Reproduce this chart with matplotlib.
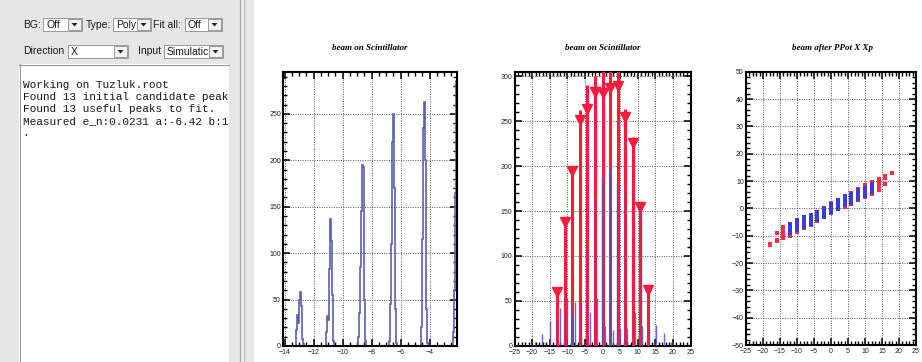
import numpy as np
import matplotlib
matplotlib.use('Agg')
import matplotlib.pyplot as plt
from matplotlib.patches import Rectangle, Polygon
from matplotlib.ticker import MultipleLocator

W, H = 922, 362

# ---------------- data ----------------
status_lines = ["Working on Tuzluk.root",
                "Found 13 initial candidate peak",
                "Found 13 useful peaks to fit.",
                "Measured e_n:0.0231 a:-6.42 b:1",
                "."]
titles = ["beam on Scintillator", "beam on Scintillator", "beam after PPot X Xp"]

# panel 1: histogram peaks (start edge of first bin, counts per bin)
p1_bin_width = 0.07
p1_peak_starts = [-13.24, -11.13, -8.94, -6.78, -4.57, -2.39]
p1_peak_counts = [[17, 33, 25, 50, 58, 43, 8, 2],
                  [15, 32, 28, 83, 137, 113, 55, 5],
                  [10, 35, 85, 145, 195, 193, 50, 5],
                  [5, 45, 110, 220, 250, 170, 40, 3],
                  [20, 115, 235, 263, 200, 40, 3],
                  [15, 60, 165, 285]]

# panel 2: red fitted peaks and found-peak markers, blue histogram
p2_red_pos = [-12.8, -10.7, -8.6, -6.45, -4.3, -2.15, 0.0, 2.15, 4.3, 6.45, 8.6, 10.7, 12.8]
p2_red_top = [63, 140, 198, 263, 290, 300, 310, 310, 310, 264, 233, 156, 64]
p2_marker_y = [60, 138, 195, 251, 264, 283, 282, 287, 289, 255, 226, 155, 62]
p2_blue_pos = [-19.3, -17.1, -15.0, -12.9, -12.1, -10.7, -10.0, -8.6, -7.9, -6.05,
               -4.35, -3.6, -2.2, -1.5, -0.1, 0.65, 2.2, 2.9, 4.2, 5.1, 6.35, 7.0,
               9.1, 10.8, 11.3, 13.2, 15.3, 17.5, 19.6]
p2_blue_h = [4, 13, 27, 33, 42, 32, 53, 35, 49, 47,
             112, 38, 166, 53, 188, 22, 196, 17, 181, 20, 174, 20,
             38, 151, 22, 19, 23, 14, 4]

# panel 3: scatter X vs Xp
red_x = ([-18] * 2 + [-16] * 3 + [-14] * 8 + [-12] * 4 + [-10] * 4 + [-8] * 3 + [-6] * 3 +
         [-4] * 2 + [-2] * 2 + [0] * 2 + [2] * 2 + [4] * 3 + [6] * 2 + [8] * 2 + [10] * 4 +
         [12] * 3 + [14] * 8 + [16] * 4 + [18] * 1)
red_y = [-13.4, -12.9,
         -12.0, -11.4, -9.2,
         -11.0, -10.4, -9.8, -9.2, -8.6, -8.0, -7.4, -7.0,
         -10.0, -9.4, -8.8, -6.0,
         -8.8, -8.2, -7.6, -4.6,
         -7.3, -6.7, -3.4,
         -6.0, -5.4, -2.3,
         -4.8, -1.2,
         -3.3, 0.3,
         -1.6, 1.8,
         -0.4, 3.1,
         0.5, 1.2, 4.7,
         1.7, 5.5,
         2.9, 7.1,
         4.2, 7.6, 8.2, 8.6,
         5.4, 9.0, 9.5,
         6.7, 7.3, 7.9, 8.5, 9.1, 9.7, 10.3, 10.8,
         8.8, 11.2, 11.7, 12.0,
         12.8]
blue_x = ([-12] * 7 + [-10] * 7 + [-8] * 7 + [-6] * 6 + [-4] * 6 + [-2] * 6 + [0] * 6 +
          [2] * 6 + [4] * 6 + [6] * 6 + [8] * 7 + [10] * 6 + [12] * 6)
blue_y = [-9.2, -8.6, -8.0, -7.4, -6.8, -6.2, -5.6,
          -8.0, -7.4, -6.8, -6.2, -5.6, -5.0, -4.4,
          -6.9, -6.3, -5.7, -5.1, -4.5, -3.9, -3.3,
          -5.6, -5.0, -4.4, -3.8, -3.2, -2.6,
          -4.4, -3.8, -3.2, -2.6, -2.0, -1.4,
          -3.0, -2.4, -1.8, -1.2, -0.6, 0.0,
          -1.3, -0.7, -0.1, 0.5, 1.1, 1.6,
          -0.1, 0.5, 1.1, 1.7, 2.3, 2.9,
          1.3, 1.9, 2.5, 3.1, 3.7, 4.4,
          2.1, 2.7, 3.3, 3.9, 4.5, 5.2,
          3.3, 3.9, 4.5, 5.1, 5.7, 6.3, 6.8,
          4.5, 5.1, 5.7, 6.3, 6.9, 7.5,
          5.8, 6.4, 7.0, 7.6, 8.2, 8.8]

# ---------------- figure ----------------
fig = plt.figure(figsize=(W / 100, H / 100), dpi=100)
fig.patch.set_facecolor('white')

def box(x, y, w, h, fc, ec='none', lw=0.8, z=1):
    r = Rectangle((x / W, 1 - (y + h) / H), w / W, h / H, transform=fig.transFigure,
                  facecolor=fc, edgecolor=ec, linewidth=lw, zorder=z)
    fig.patches.append(r)

def vline(x, y0, y1, color, lw=1.0, z=2):
    fig.add_artist(plt.Line2D([x / W, x / W], [1 - y0 / H, 1 - y1 / H],
                              transform=fig.transFigure, color=color, lw=lw, zorder=z))

def hline(x0, x1, y, color, lw=1.0, z=2):
    fig.add_artist(plt.Line2D([x0 / W, x1 / W], [1 - y / H, 1 - y / H],
                              transform=fig.transFigure, color=color, lw=lw, zorder=z))

def label(x, y, s, size=7.5, fam='Liberation Sans', z=3, **kw):
    fig.text(x / W, 1 - y / H, s, va='center', ha='left', fontsize=size,
             family=fam, color='#1a1a1a', zorder=z, **kw)

def combo(x, y, w, h, text):
    box(x, y, w, h, 'white', '#9a9a9a', 0.7, z=2)
    label(x + 3, y + h / 2 + 0.5, text, z=3)
    bx = x + w - 14
    box(bx, y + 1, 13, h - 2, '#f2f2f2', '#8a8a8a', 0.6, z=4)
    cx, cy = bx + 6.5, y + h / 2
    tri = Polygon([((cx - 3) / W, 1 - (cy - 1.5) / H), ((cx + 3) / W, 1 - (cy - 1.5) / H),
                   (cx / W, 1 - (cy + 2) / H)], closed=True, transform=fig.transFigure,
                  facecolor='#222', edgecolor='none', zorder=5)
    fig.patches.append(tri)

# GUI left panel
box(0, 0, 254, H, '#e6e6e6', z=0.5)
vline(239.5, 0, H, '#a9a9a9', lw=0.9)
vline(241.5, 0, H, '#f7f7f7', lw=0.9)
vline(243.5, 0, H, '#c4c4c4', lw=0.9)

label(23, 24.5, "BG:")
combo(43, 18, 39, 13, "Off")
label(86, 24.5, "Type:")
combo(113, 18, 38, 13, "Poly")
label(153, 24.5, "Fit all:")
combo(185, 18, 37, 13, "Off")
label(23, 51, "Direction")
combo(68, 45, 60, 13, "X")
label(138, 51, "Input")
combo(164, 45, 59, 13, "Simulatic")

# text output area
box(19, 64, 210, H - 64 + 2, 'white', z=1)
hline(19, 229, 64.5, '#9a9a9a', lw=0.8)
vline(19.5, 64, H, '#9a9a9a', lw=0.8)
for i, s in enumerate(status_lines):
    label(22.5, 85 + i * 12, s, size=8, fam='Liberation Mono')

# ---------------- plots ----------------
BLUE1 = '#5a5fb4'
RED = '#ff1a3c'

def make_ax(left, right, top, bottom):
    return fig.add_axes([left / W, 1 - bottom / H, (right - left) / W, (bottom - top) / H])

def style(ax, xmaj, xmin, ymaj, ymin):
    ax.xaxis.set_major_locator(MultipleLocator(xmaj))
    ax.xaxis.set_minor_locator(MultipleLocator(xmin))
    ax.yaxis.set_major_locator(MultipleLocator(ymaj))
    ax.yaxis.set_minor_locator(MultipleLocator(ymin))
    ax.tick_params(which='both', direction='in', top=True, right=True, color='black')
    ax.tick_params(which='major', length=5.0, width=1.1, labelsize=5.0, pad=2.5,
                   labelcolor='#222')
    ax.tick_params(which='minor', length=2.6, width=1.0)
    ax.tick_params(axis='y', which='major', pad=1.5)
    for lab in ax.get_xticklabels() + ax.get_yticklabels():
        lab.set_family('Liberation Sans')
    for sp in ax.spines.values():
        sp.set_linewidth(1.5)
    ax.grid(True, which='major', linestyle=(0, (1, 1.3)), color='#666666', lw=0.75)
    ax.set_axisbelow(True)

# Panel 1
ax1 = make_ax(283, 457, 72, 346)
for start, counts in zip(p1_peak_starts, p1_peak_counts):
    edges = start + np.arange(len(counts) + 1) * p1_bin_width
    ax1.stairs(counts, edges, color=BLUE1, lw=1.2, baseline=0, fill=False)
ax1.set_xlim(-14.11, -2.11)
ax1.set_ylim(0, 295)
style(ax1, 2, 0.5, 50, 10)

# Panel 2
ax2 = make_ax(514.5, 690.5, 72, 345.7)
ax2.vlines(p2_red_pos, 0, p2_red_top, color=RED, lw=2.2, zorder=3)
ax2.vlines(p2_blue_pos, 0, p2_blue_h, color='#4a50c0', lw=1.0, alpha=0.85, zorder=4)
ax2.plot(p2_red_pos, p2_marker_y, linestyle='none', marker='v', ms=7,
         color=RED, mec=RED, zorder=5, clip_on=False)
ax2.set_xlim(-25, 25)
ax2.set_ylim(0, 305)
style(ax2, 5, 1, 50, 10)

# Panel 3
ax3 = make_ax(746, 916, 71.7, 345)
ax3.plot(red_x, red_y, linestyle='none', marker='s', ms=2.2, color='#ff2a48', mew=0, zorder=3)
ax3.plot(blue_x, blue_y, linestyle='none', marker='s', ms=2.2, color='#3c3cd8', mew=0, zorder=4)
ax3.set_xlim(-25, 25)
ax3.set_ylim(-50, 50)
style(ax3, 5, 1, 10, 2)

# titles
for cx, t in zip([370, 603, 832], titles):
    fig.text(cx / W, 1 - 48 / H, t, ha='center', va='center', fontsize=6.5,
             family='Liberation Serif', weight='bold', style='italic', color='black')

fig.savefig('out.png', dpi=100, facecolor='white')
